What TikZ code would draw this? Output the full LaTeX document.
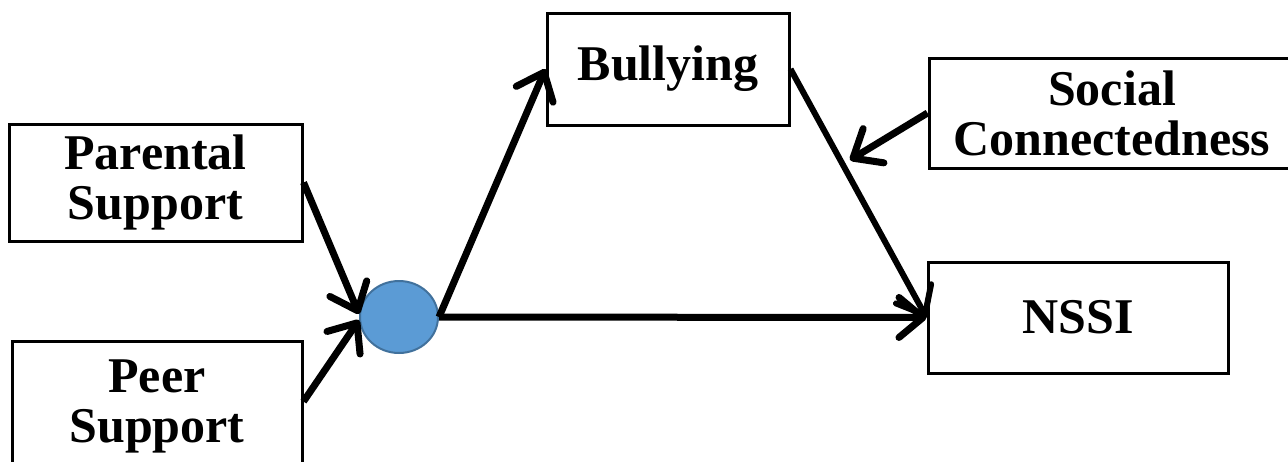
\documentclass[tikz,border=0pt]{standalone}
\usepackage{fontspec}
\setmainfont{Liberation Serif}
\usetikzlibrary{arrows.meta,shapes.geometric,calc}
\definecolor{circfill}{HTML}{5B9BD5}
\definecolor{circline}{HTML}{41719C}
\tikzset{
  box/.style={draw=black, line width=3pt, rectangle, inner sep=0pt, align=center,
    font=\fontsize{50}{50}\selectfont\bfseries},
  conn/.style={line width=7pt, -{Straight Barb[length=24pt, width=40pt, round]}},
  mix/.style={ellipse, draw=circline, line width=2pt, fill=circfill, inner sep=0pt,
    minimum width=78pt, minimum height=72pt}
}
\begin{document}
\begin{tikzpicture}[x=1pt,y=-1pt]
\useasboundingbox (0,0) rectangle (1288,461);
\node[box, minimum width=293pt, minimum height=117pt] (par) at (155.5,182.5) {Parental\\Support};
\node[box, minimum width=290pt, minimum height=130pt, anchor=north] (peer) at (157,340) {Peer\\Support};
\node[box, minimum width=242pt, minimum height=112pt] (bul) at (668,69) {Bullying};
\node[box, minimum width=366pt, minimum height=110pt] (soc) at (1112,113) {Social\\Connectedness};
\node[box, minimum width=300pt, minimum height=111pt] (nssi) at (1078,317.5) {NSSI};
\node[mix] (circ) at (399,317) {};
\coordinate (mod) at (850,160);
\draw[conn] (par.east) -- ($(circ.west)+(0,-3)$);
\draw[conn] ($(peer.east)+(0,-5)$) -- ($(circ.west)+(0,3)$);
\draw[conn] (circ.east) -- (bul.west);
\draw[conn, line width=6pt] (bul.east) -- (nssi.west);
\draw[conn] (circ.east) -- (nssi.west);
\draw[conn] (soc.west) -- (mod);
\end{tikzpicture}
\end{document}
